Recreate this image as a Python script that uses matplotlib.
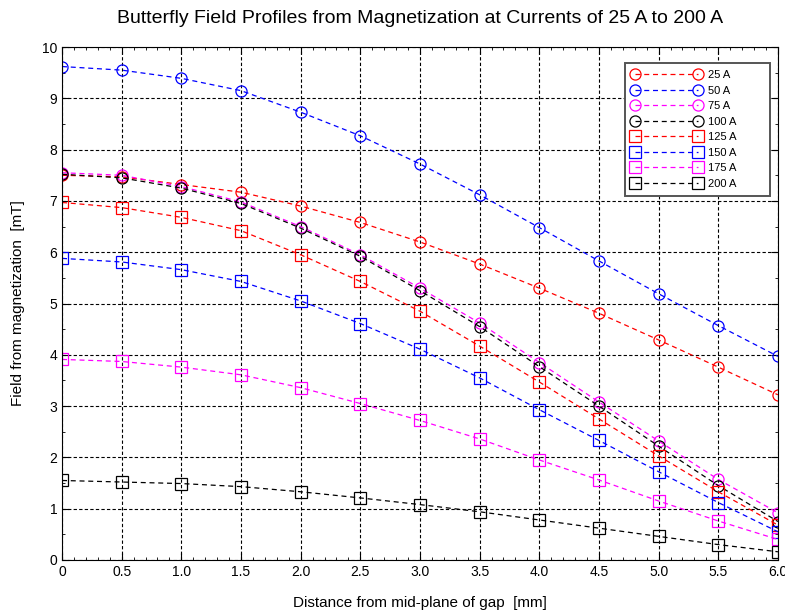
import numpy as np
import matplotlib
matplotlib.use("Agg")
import matplotlib.pyplot as plt
from matplotlib.ticker import MultipleLocator

plt.rcParams['font.family'] = ['Liberation Sans', 'DejaVu Sans']

distance = [0, 0.5, 1.0, 1.5, 2.0, 2.5, 3.0, 3.5, 4.0, 4.5, 5.0, 5.5, 6.0]

field_25a = [7.50, 7.47, 7.32, 7.17, 6.90, 6.58, 6.20, 5.77, 5.30, 4.81, 4.29, 3.76, 3.22]
field_50a = [9.62, 9.55, 9.39, 9.15, 8.73, 8.27, 7.72, 7.12, 6.48, 5.83, 5.19, 4.57, 3.97]
field_75a = [7.55, 7.50, 7.28, 6.98, 6.50, 5.95, 5.30, 4.62, 3.85, 3.08, 2.32, 1.57, 0.92]
field_100a = [7.52, 7.45, 7.25, 6.95, 6.47, 5.92, 5.25, 4.55, 3.77, 3.00, 2.22, 1.45, 0.75]
field_125a = [6.97, 6.87, 6.68, 6.42, 5.95, 5.43, 4.85, 4.17, 3.47, 2.75, 2.03, 1.33, 0.68]
field_150a = [5.88, 5.81, 5.66, 5.43, 5.05, 4.61, 4.11, 3.55, 2.93, 2.33, 1.72, 1.12, 0.55]
field_175a = [3.91, 3.87, 3.76, 3.61, 3.36, 3.05, 2.72, 2.36, 1.95, 1.56, 1.15, 0.76, 0.40]
field_200a = [1.55, 1.52, 1.49, 1.43, 1.33, 1.21, 1.08, 0.94, 0.78, 0.62, 0.46, 0.30, 0.16]

labels = ["25 A", "50 A", "75 A", "100 A", "125 A", "150 A", "175 A", "200 A"]
series = [field_25a, field_50a, field_75a, field_100a,
          field_125a, field_150a, field_175a, field_200a]
colors = ["red", "blue", "magenta", "black"] * 2
markers = ["o"] * 4 + ["s"] * 4

fig = plt.figure(figsize=(7.85, 6.11), dpi=100)
ax = fig.add_axes([0.079, 0.0835, 0.912, 0.8395])

for vals, lab, col, mk in zip(series, labels, colors, markers):
    # trailing spaces widen the legend box like the original
    ax.plot(distance, vals, linestyle=(0, (4, 3)), linewidth=0.9, color=col,
            marker=mk, markersize=8 if mk == "o" else 9, markerfacecolor="none",
            markeredgecolor=col, markeredgewidth=0.9, label=lab.ljust(14))

ax.set_xlim(0, 6)
ax.set_ylim(0, 10)
ax.xaxis.set_major_locator(MultipleLocator(0.5))
ax.xaxis.set_minor_locator(MultipleLocator(0.1))
ax.yaxis.set_major_locator(MultipleLocator(1))
ax.yaxis.set_minor_locator(MultipleLocator(0.5))
xt = np.arange(0, 6.01, 0.5)
ax.set_xticks(xt)
ax.set_xticklabels(["0"] + [f"{v:.1f}" for v in xt[1:]])
ax.tick_params(which="both", direction="in", top=True, right=True, labelsize=10)
ax.tick_params(which="major", length=5)
ax.tick_params(which="minor", length=2.5)
ax.grid(True, which="major", color="black", linestyle=(0, (3, 2)), linewidth=0.8)

ax.set_xlabel("Distance from mid-plane of gap  [mm]", fontsize=11, labelpad=12)
ax.set_ylabel("Field from magnetization  [mT]", fontsize=11, labelpad=12)
ax.set_title("Butterfly Field Profiles from Magnetization at Currents of 25 A to 200 A",
             fontsize=14, pad=17)

leg = ax.legend(loc="upper right", numpoints=2, fontsize=8, handlelength=6.2,
                handletextpad=0.6, borderpad=0.6, labelspacing=0.5,
                fancybox=False, framealpha=1, edgecolor="#555555",
                bbox_to_anchor=(0.997, 0.979))
leg.get_frame().set_linewidth(1.4)

fig.savefig("out.png", dpi=100)
